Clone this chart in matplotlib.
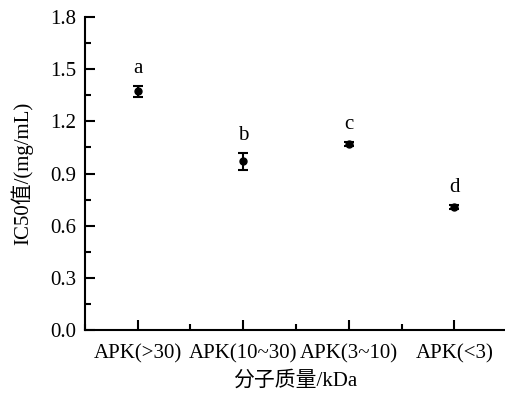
import matplotlib
matplotlib.use("Agg")
import matplotlib.pyplot as plt
from matplotlib.ticker import MultipleLocator

plt.rcParams['font.family'] = ['Liberation Serif', 'Noto Sans CJK SC']
plt.rcParams['mathtext.fontset'] = 'stix'

categories = ['APK(>30)', 'APK(10~30)', 'APK(3~10)', 'APK(<3)']
values = [1.372, 0.97, 1.07, 0.708]
errors = [0.03, 0.05, 0.012, 0.012]
letters = ['a', 'b', 'c', 'd']

fig = plt.figure(figsize=(5.05, 3.98), dpi=100)
ax = fig.add_axes([0.168, 0.171, 0.832, 0.786])
x = list(range(1, len(categories) + 1))
ax.errorbar(x, values, yerr=errors, fmt='o', color='black', markersize=5,
            capsize=3.5, elinewidth=1.5, capthick=1.5)
for xi, v, e, l in zip(x, values, errors, letters):
    ax.text(xi, v + e + 0.045, l, ha='center', va='bottom', fontsize=15)

ax.set_xlim(0.5, 4.48)
ax.set_ylim(0, 1.8)
ax.set_xticks(x)
ax.set_xticklabels(categories)
ax.xaxis.set_minor_locator(MultipleLocator(0.5))
ax.yaxis.set_major_locator(MultipleLocator(0.3))
ax.yaxis.set_minor_locator(MultipleLocator(0.15))
ax.tick_params(which='both', direction='in', width=1.5, labelsize=15)
ax.tick_params(axis='x', which='major', length=7, pad=10)
ax.tick_params(axis='y', which='major', length=7, pad=6)
ax.tick_params(which='minor', length=4)
ax.yaxis.set_major_formatter(matplotlib.ticker.FormatStrFormatter('%.1f'))
for s in ['top', 'right']:
    ax.spines[s].set_visible(False)
for s in ['left', 'bottom']:
    ax.spines[s].set_linewidth(1.5)
ax.set_ylabel('IC50值/(mg/mL)', fontsize=15, labelpad=12)
ax.set_xlabel('分子质量/kDa', fontsize=15, labelpad=6)

fig.savefig('out.png', dpi=100)
